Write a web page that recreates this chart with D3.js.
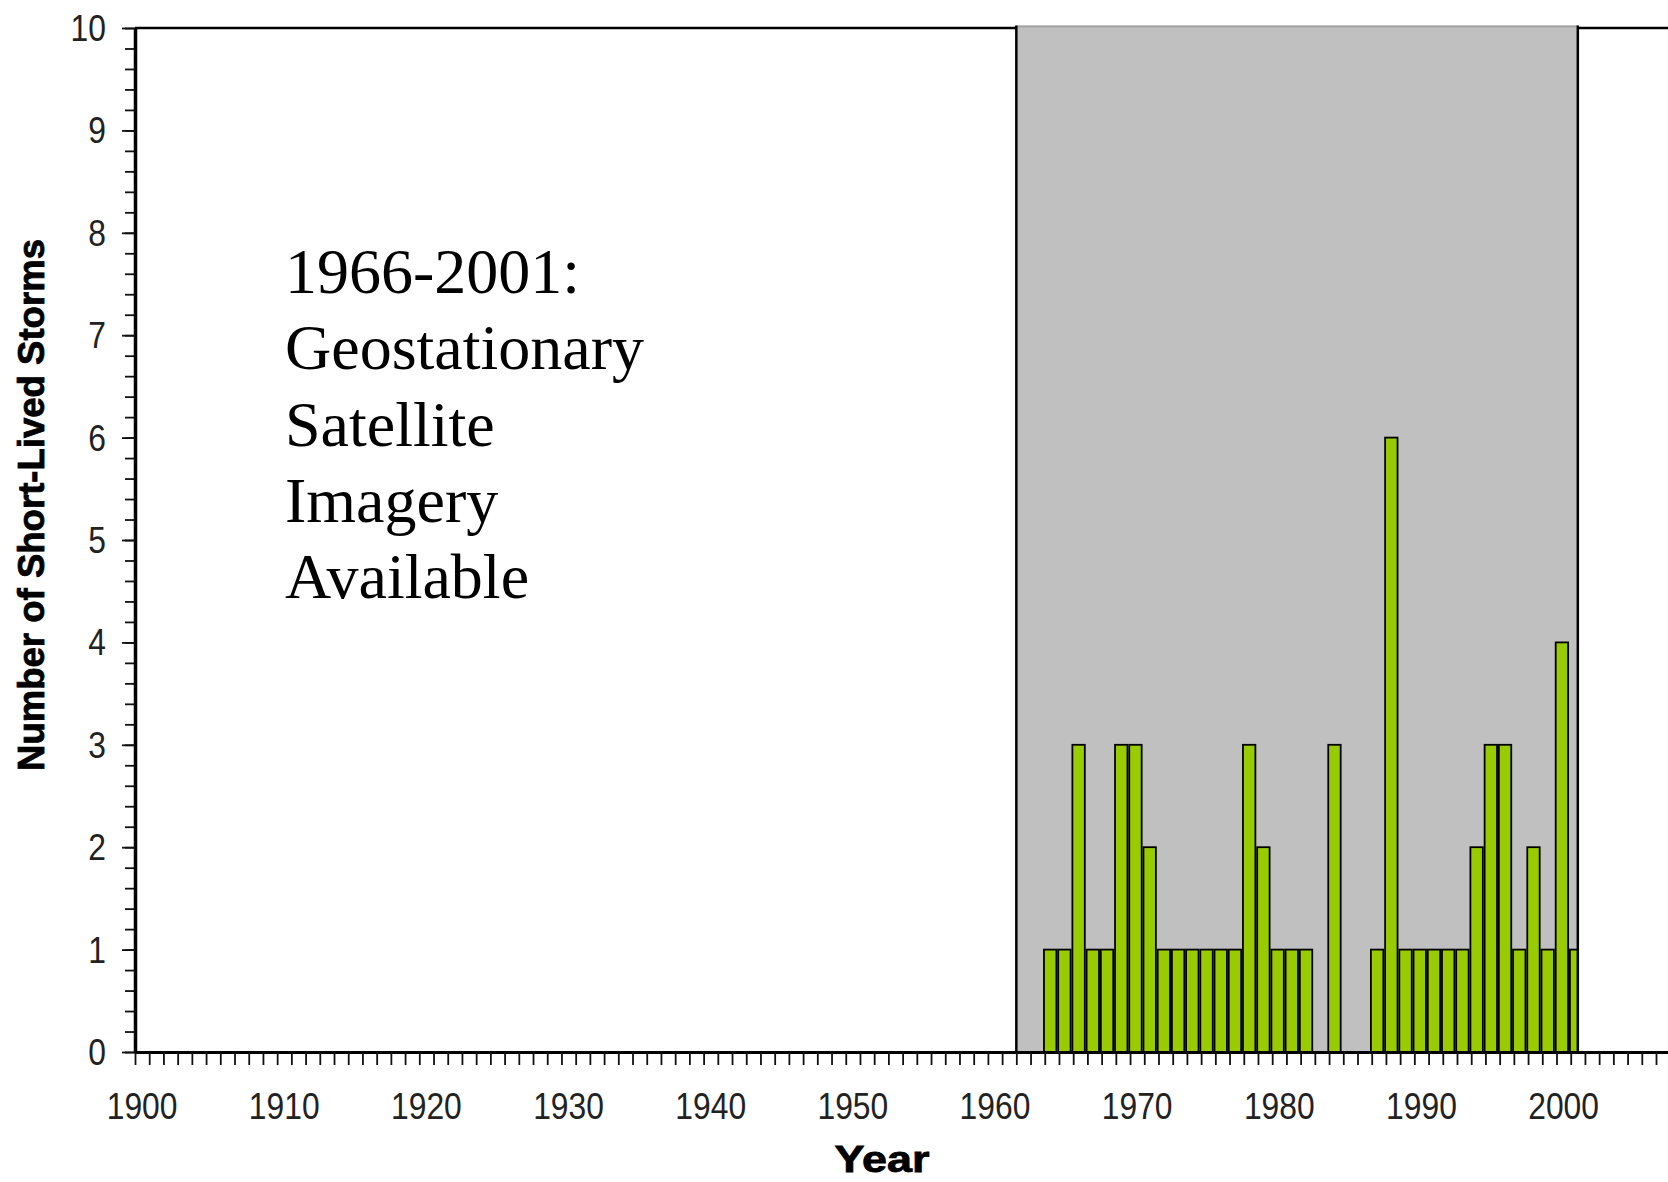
<!DOCTYPE html>
<html><head><meta charset="utf-8">
<script src="https://cdn.jsdelivr.net/npm/d3@7"></script>
<style>body{margin:0;background:#fff;} svg{display:block;}</style>
</head><body>
<svg id="chart" width="1668" height="1182"></svg>
<script>
// ---- data ----
const years  = [1964,1965,1966,1967,1968,1969,1970,1971,1972,1973,1974,1975,1976,1977,1978,1979,1980,1981,1982,1983,1984,1985,1986,1987,1988,1989,1990,1991,1992,1993,1994,1995,1996,1997,1998,1999,2000,2001];
const counts = [1,1,3,1,1,3,3,2,1,1,1,1,1,1,3,2,1,1,1,0,3,0,0,1,6,1,1,1,1,1,2,3,3,1,2,1,4,1];
const yTickValues = [0,1,2,3,4,5,6,7,8,9,10];
const xTickLabels = [1900,1910,1920,1930,1940,1950,1960,1970,1980,1990,2000];
const xDomain = [1900, 2010];
const yDomain = [0, 10];
const shadeRange = [1962, 2001.5];
const annotationLines = ["1966-2001:", "Geostationary", "Satellite", "Imagery", "Available"];
const xTitle = "Year";
const yTitle = "Number of Short-Lived Storms";

// ---- layout ----
const plotLeft = 135, yearW = 14.215, plotTop = 28, plotBottom = 1052;
const svg = d3.select("#chart");
const x = d3.scaleLinear().domain(xDomain).range([plotLeft, plotLeft + (xDomain[1]-xDomain[0]) * yearW]);
const y = d3.scaleLinear().domain(yDomain).range([plotBottom, plotTop]);
const sansFont = "'Liberation Sans', Arial, sans-serif";

svg.append("rect").attr("width",1668).attr("height",1182).attr("fill","#fff");

// top border
svg.append("line").attr("x1", x(xDomain[0])).attr("x2", 1668)
  .attr("y1", y(yDomain[1])).attr("y2", y(yDomain[1]))
  .attr("stroke","#000").attr("stroke-width",2.5);

// shaded period
svg.append("rect")
  .attr("x", x(shadeRange[0])).attr("y", y(yDomain[1]) - 2.5)
  .attr("width", x(shadeRange[1]) - x(shadeRange[0]))
  .attr("height", y(0) - y(yDomain[1]) + 2.5)
  .attr("fill", "#c0c0c0");
svg.append("line").attr("x1", x(shadeRange[0])).attr("x2", x(shadeRange[1]))
  .attr("y1", y(yDomain[1]) - 1.5).attr("y2", y(yDomain[1]) - 1.5)
  .attr("stroke","#a4a4a4").attr("stroke-width",2);

svg.append("clipPath").attr("id","shadeClip").append("rect")
  .attr("x", x(shadeRange[0])).attr("y", 0)
  .attr("width", x(shadeRange[1]) - x(shadeRange[0])).attr("height", y(0));

// bars
svg.append("g").attr("clip-path","url(#shadeClip)")
  .selectAll("rect").data(years.map((yr,i)=>({yr, v:counts[i]})).filter(d=>d.v>0))
  .join("rect")
  .attr("x", d => x(d.yr) - 0.8)
  .attr("width", d => x(d.yr+1) - x(d.yr) - 1.8)
  .attr("y", d => y(d.v))
  .attr("height", d => y(0) - y(d.v))
  .attr("fill", "#99cc00")
  .attr("stroke", "#000")
  .attr("stroke-width", 1.8);

// shade edges
shadeRange.forEach(v => {
  svg.append("line").attr("x1", x(v)).attr("x2", x(v))
    .attr("y1", y(yDomain[1]) - 2.5).attr("y2", y(0))
    .attr("stroke","#000").attr("stroke-width",2.5);
});

// x axis
const xAxis = svg.append("g").attr("transform", `translate(0,${y(0)})`)
  .call(d3.axisBottom(x).tickValues(d3.range(xDomain[0], xDomain[1]+1, 1)).tickSize(13).tickSizeOuter(0).tickFormat(""));
xAxis.select(".domain").attr("stroke","#000").attr("stroke-width",3);
xAxis.selectAll(".tick line").attr("stroke","#111").attr("stroke-width",1.8);

svg.append("g").selectAll("text").data(xTickLabels).join("text")
  .attr("transform", d => `translate(${x(d + 0.5)},1119) scale(0.86,1)`)
  .attr("text-anchor","middle")
  .attr("font-family", sansFont).attr("font-size", 37).attr("fill","#222")
  .text(d => d);

// y axis: minor ticks then major
const yMinor = svg.append("g").attr("transform", `translate(${x(xDomain[0])},0)`)
  .call(d3.axisLeft(y).tickValues(d3.range(0, 10.001, 0.2)).tickSize(10).tickSizeOuter(0).tickFormat(""));
yMinor.select(".domain").remove();
yMinor.selectAll(".tick line").attr("stroke","#111").attr("stroke-width",1.8);
const yMajor = svg.append("g").attr("transform", `translate(${x(xDomain[0])},0)`)
  .call(d3.axisLeft(y).tickValues(yTickValues).tickSize(13).tickSizeOuter(0).tickFormat(""));
yMajor.select(".domain").attr("stroke","#000").attr("stroke-width",3.5);
yMajor.selectAll(".tick line").attr("stroke","#111").attr("stroke-width",1.8);

svg.append("g").selectAll("text").data(yTickValues).join("text")
  .attr("transform", d => `translate(106,${y(d) + 13}) scale(0.86,1)`)
  .attr("text-anchor","end")
  .attr("font-family", sansFont).attr("font-size", 37).attr("fill","#222")
  .text(d => d);

// axis titles
svg.append("text")
  .attr("x", 882).attr("y", 1172).attr("text-anchor","middle")
  .attr("font-family", sansFont).attr("font-weight","bold").attr("font-size", 37)
  .attr("stroke","#000").attr("stroke-width",0.8)
  .attr("textLength", 95).attr("lengthAdjust","spacingAndGlyphs")
  .text(xTitle);

svg.append("text")
  .attr("transform", "translate(44,505) rotate(-90)")
  .attr("text-anchor","middle")
  .attr("font-family", sansFont).attr("font-weight","bold").attr("font-size", 37)
  .attr("stroke","#000").attr("stroke-width",0.8)
  .attr("textLength", 532).attr("lengthAdjust","spacingAndGlyphs")
  .text(yTitle);

// annotation
svg.append("g").selectAll("text").data(annotationLines).join("text")
  .attr("x", 285).attr("y", (d,i) => 292.7 + i * 76.4)
  .attr("font-family", "'Liberation Serif', 'Times New Roman', serif")
  .attr("font-size", 64).attr("fill","#000")
  .text(d => d);
</script>
</body></html>
